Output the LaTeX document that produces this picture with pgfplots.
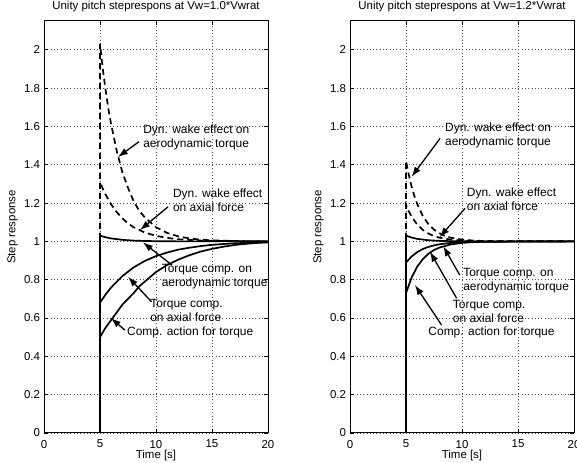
\documentclass[border=0pt]{standalone}
\usepackage{pgfplots}
\pgfplotsset{compat=1.18}
\usepackage{fontspec}
\setmainfont{Liberation Sans}
\usetikzlibrary{arrows.meta}

% MATLAB-like panel
\pgfplotsset{
  every axis title shift=0pt,
  steppanel/.style={
    scale only axis, width=224bp, height=412bp,
    anchor=south west,
    xmin=0, xmax=20, ymin=0, ymax=2.15,
    xtick={0,5,10,15,20},
    ytick={0,0.2,0.4,0.6,0.8,1,1.2,1.4,1.6,1.8,2},
    axis line style={line width=1bp},
    tick align=inside, major tick length=4bp,
    tick style={black, line width=0.5bp},
    grid=major,
    major grid style={black!70, line width=0.5bp, dash pattern=on 0.7bp off 2.6bp},
    tick label style={font=\fontsize{11.5}{13}\selectfont},
    /pgf/number format/assume math mode=true,
    yticklabel style={/pgf/number format/fixed, xshift=-0.5bp},
    xticklabel style={yshift=-3.5bp},
    xlabel={Time [s]}, ylabel={Step response},
    label style={font=\fontsize{11.5}{13}\selectfont},
    xlabel style={at={(axis description cs:0.5,-0.054)}, anchor=center},
    ylabel style={at={(axis description cs:-0.14,0.5)}, anchor=center},
    title style={at={(axis description cs:0.5,1.034)}, anchor=center,
                 font=\fontsize{11.5}{13}\selectfont},
  },
  solidc/.style={black, line width=1.7bp},
  dashc/.style={black, line width=1.7bp, dash pattern=on 6bp off 4bp},
}
\tikzset{
  annarrow/.style={black, line width=1.3bp, -{Latex[length=10bp,width=7bp]}},
  anntext/.style={anchor=west, align=left, inner sep=0pt,
                  font=\fontsize{12}{14}\selectfont},
}

\begin{document}
\begin{tikzpicture}
\useasboundingbox (0,0) rectangle (577bp,463bp);

\begin{axis}[steppanel, at={(44bp,30bp)},
  title={Unity pitch steprespons at Vw=1.0*Vwrat}]
  % dynamic wake effect on aerodynamic torque
  \addplot[dashc] coordinates {(0,0)(5,0)(5,2.03)(5.25,1.90)(5.5,1.79)(5.75,1.69)(6,1.61)(6.5,1.47)(7,1.36)(7.5,1.28)(8,1.21)(8.5,1.16)(9,1.125)(10,1.074)(11,1.044)(12,1.026)(13,1.015)(14,1.009)(15,1.005)(17,1.002)(20,1.0)};
  % dynamic wake effect on axial force
  \addplot[dashc] coordinates {(0,0)(5,0)(5,1.31)(5.25,1.275)(5.5,1.244)(6,1.193)(6.5,1.152)(7,1.12)(7.5,1.094)(8,1.074)(9,1.046)(10,1.029)(11,1.018)(12,1.011)(14,1.004)(16,1.002)(20,1.0)};
  % torque comp. on aerodynamic torque
  \addplot[solidc] coordinates {(0,0)(5,0)(5,1.03)(5.5,1.0215)(6,1.0154)(7,1.0079)(8,1.004)(9,1.002)(10,1.001)(12,1.0)(20,1.0)};
  % torque comp. on axial force
  \addplot[solidc] coordinates {(0,0)(5,0)(5,0.68)(5.5,0.723)(6,0.76)(7,0.819)(8,0.864)(9,0.898)(10,0.923)(11,0.942)(12,0.957)(13,0.967)(14,0.9755)(15,0.982)(16,0.986)(17,0.99)(18,0.992)(20,0.996)};
  % comp. action for torque
  \addplot[solidc] coordinates {(0,0)(5,0)(5,0.5)(5.5,0.55)(6,0.59)(6.5,0.63)(7,0.67)(7.5,0.70)(8,0.73)(8.5,0.765)(9,0.79)(10,0.84)(11,0.877)(12,0.905)(13,0.928)(14,0.947)(15,0.961)(16,0.972)(17,0.981)(18,0.987)(19,0.992)(20,0.995)};

  \draw[annarrow] (axis cs:8.48,1.52) -- (axis cs:6.6,1.44);
  \node[anntext] at (axis cs:8.85,1.544) {Dyn. wake effect on\\aerodynamic torque};
  \draw[annarrow] (axis cs:11.07,1.18) -- (axis cs:8.57,1.059);
  \node[anntext] at (axis cs:11.5,1.215) {Dyn. wake effect\\on axial force};
  \draw[annarrow] (axis cs:11.43,0.876) -- (axis cs:8.83,0.995);
  \node[anntext] at (axis cs:10.5,0.815) {Torque comp. on\\aerodynamic torque};
  \draw[annarrow] (axis cs:9.6,0.685) -- (axis cs:7.5,0.815);
  \node[anntext] at (axis cs:9.47,0.64) {Torque comp.\\on axial force};
  \draw[annarrow] (axis cs:7.22,0.537) -- (axis cs:5.97,0.60);
  \node[anntext] at (axis cs:7.41,0.523) {Comp. action for torque};
\end{axis}

\begin{axis}[steppanel, at={(350bp,30bp)},
  title={Unity pitch steprespons at Vw=1.2*Vwrat}]
  \addplot[dashc] coordinates {(0,0)(5,0)(5,1.42)(5.25,1.347)(5.5,1.286)(5.75,1.236)(6,1.195)(6.5,1.132)(7,1.09)(7.5,1.061)(8,1.042)(8.5,1.028)(9,1.019)(10,1.009)(11,1.004)(12,1.002)(13,1.001)(20,1.0)};
  \addplot[dashc] coordinates {(0,0)(5,0)(5,1.19)(5.25,1.157)(5.5,1.129)(6,1.088)(6.5,1.06)(7,1.041)(7.5,1.028)(8,1.019)(9,1.009)(10,1.004)(12,1.001)(20,1.0)};
  \addplot[solidc] coordinates {(0,0)(5,0)(5,1.03)(5.5,1.02)(6,1.013)(7,1.006)(8,1.0025)(9,1.001)(11,1.0)(20,1.0)};
  \addplot[solidc] coordinates {(0,0)(5,0)(5,0.89)(5.5,0.921)(6,0.944)(6.5,0.96)(7,0.971)(7.5,0.979)(8,0.985)(9,0.992)(10,0.996)(11,0.998)(20,1.0)};
  \addplot[solidc] coordinates {(0,0)(5,0)(5,0.73)(5.5,0.811)(6,0.868)(6.5,0.907)(7,0.935)(7.5,0.955)(8,0.968)(9,0.984)(10,0.992)(11,0.996)(12,0.998)(20,1.0)};

  \draw[annarrow] (axis cs:8.04,1.537) -- (axis cs:5.5,1.337);
  \node[anntext] at (axis cs:8.48,1.553) {Dyn. wake effect on\\aerodynamic torque};
  \draw[annarrow] (axis cs:10.27,1.172) -- (axis cs:8.0,1.022);
  \node[anntext] at (axis cs:10.42,1.218) {Dyn. wake effect\\on axial force};
  \draw[annarrow] (axis cs:9.8,0.824) -- (axis cs:8.33,0.975);
  \node[anntext] at (axis cs:10.1,0.793) {Torque comp. on\\aerodynamic torque};
  \draw[annarrow] (axis cs:9.52,0.703) -- (axis cs:7.14,0.946);
  \node[anntext] at (axis cs:9.17,0.633) {Torque comp.\\on axial force};
  \draw[annarrow] (axis cs:8.18,0.563) -- (axis cs:5.8,0.772);
  \node[anntext] at (axis cs:6.99,0.523) {Comp. action for torque};
\end{axis}
\end{tikzpicture}
\end{document}
